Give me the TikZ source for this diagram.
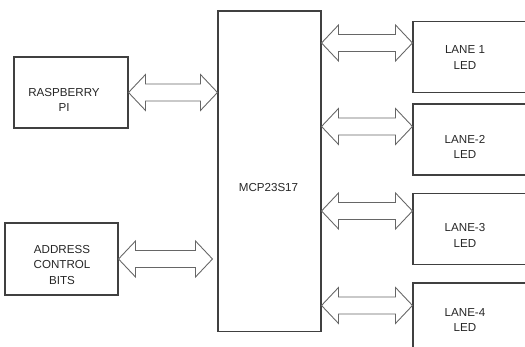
\documentclass[tikz,border=0pt]{standalone}
\usepackage{fontspec}
\setmainfont{Liberation Sans}
\usepackage{tikz}
\usetikzlibrary{calc,positioning}
\newcommand{\lblfont}{\fontsize{6.6}{8.8}\selectfont}
% hollow two-headed bus arrow, drawn level from #1 to #2
\newcommand{\busarrow}[2]{%
  \draw[busline] let \p1=(#1), \p2=(#2) in
    (\x1,\y1) -- (\x1+0.34cm,\y1+0.36cm) -- (\x1+0.34cm,\y1+0.17cm)
    -- (\x2-0.34cm,\y1+0.17cm) -- (\x2-0.34cm,\y1+0.36cm) -- (\x2,\y1)
    -- (\x2-0.34cm,\y1-0.36cm) -- (\x2-0.34cm,\y1-0.17cm)
    -- (\x1+0.34cm,\y1-0.17cm) -- (\x1+0.34cm,\y1-0.36cm) -- cycle;}

\begin{document}
\begin{tikzpicture}[x=0.02cm, y=-0.02cm,
    box/.style={draw=black!75, line width=0.6pt, inner sep=0pt},
    lanebox/.style={box, minimum width=2.44cm, minimum height=1.42cm},
    lbl/.style={align=center, inner sep=0pt, font=\lblfont, text=black!85},
    busline/.style={draw=black!60, line width=0.5pt, fill=white}]
  \clip (0,0) rectangle (525,347);

  % left side
  \node[box, minimum width=2.28cm, minimum height=1.42cm] (rpi) at (71,92.5) {};
  \node[lbl] (rpitext) at (64,100) {RASPBERRY\\PI};
  \node[box, minimum width=2.26cm, minimum height=1.44cm] (addr) at (61.5,259) {};
  \node[lbl] (addrtext) at (62,265) {ADDRESS\\CONTROL\\BITS};

  % expander
  \node[box, minimum width=2.06cm, minimum height=6.42cm] (mcp) at (269.5,171.5) {};
  \node[lbl] (mcptext) at (268.5,188) {MCP23S17};

  % lanes
  \node[lanebox] (lane1) at (474,57) {};
  \node[lbl] (lane1text) at (465,57.5) {LANE 1\\LED};
  \node[lanebox] (lane2) at (474,139.5) {};
  \node[lbl] (lane2text) at (465,147) {LANE-2\\LED};
  \node[lanebox] (lane3) at (474,229) {};
  \node[lbl] (lane3text) at (465,235.5) {LANE-3\\LED};
  \node[lanebox] (lane4) at (474,318.5) {};
  \node[lbl] (lane4text) at (465,320) {LANE-4\\LED};

  % buses
  \busarrow{rpi.east}{rpi.east -| mcp.west}
  \coordinate (addrport) at ($(addr.east -| mcp.west)+(-5,0)$);
  \busarrow{addr.east}{addrport}
  \foreach \i/\dy in {1/22,2/23,3/18,4/23}{
    \coordinate (lane\i port) at ($(lane\i.north west)+(0,\dy)$);
    \busarrow{lane\i port -| mcp.east}{lane\i port}
  }
\end{tikzpicture}
\end{document}
